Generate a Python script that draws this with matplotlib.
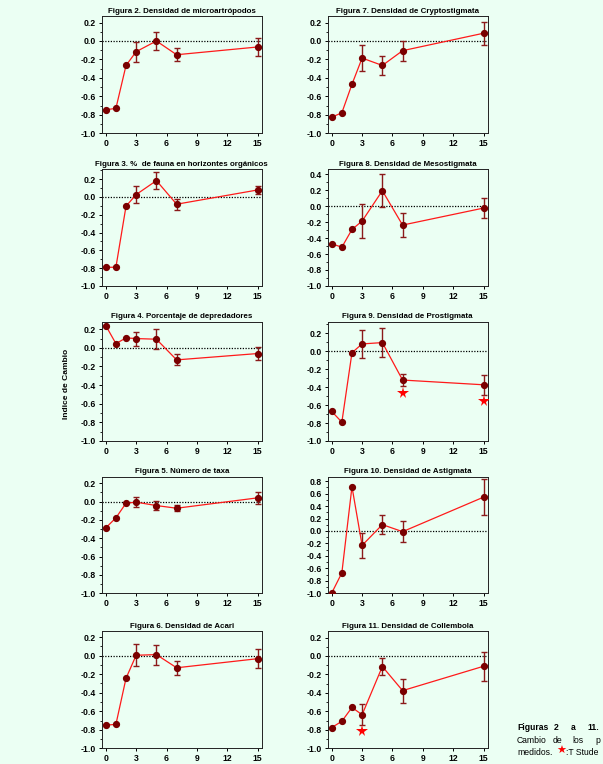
import matplotlib
matplotlib.use('Agg')
import matplotlib.pyplot as plt
from matplotlib.ticker import MultipleLocator, FormatStrFormatter

plt.rcParams['font.family'] = ['Liberation Sans', 'DejaVu Sans']
plt.rcParams['axes.unicode_minus'] = False

# años desde el disturbio
years = [0, 1, 2, 3, 5, 7, 15]

# Figura 2 .. 11: indice de cambio y error
fig2_y = [-0.745, -0.73, -0.265, -0.116, 0.0, -0.149, -0.065]
fig2_e = [0, 0, 0, 0.11, 0.10, 0.07, 0.10]

fig3_y = [-0.79, -0.79, -0.104, 0.026, 0.183, -0.082, 0.078]
fig3_e = [0, 0, 0, 0.095, 0.097, 0.06, 0.05]

fig4_y = [0.239, 0.046, 0.107, 0.10, 0.093, -0.129, -0.061]
fig4_e = [0, 0, 0, 0.075, 0.107, 0.06, 0.07]

fig5_y = [-0.287, -0.178, -0.018, -0.007, -0.044, -0.073, 0.04]
fig5_e = [0, 0, 0, 0.055, 0.047, 0.03, 0.063]

fig6_y = [-0.749, -0.742, -0.244, 0.004, 0.011, -0.131, -0.033]
fig6_e = [0, 0, 0, 0.12, 0.107, 0.073, 0.103]

fig7_y = [-0.825, -0.778, -0.469, -0.185, -0.265, -0.105, 0.084]
fig7_e = [0, 0, 0, 0.145, 0.10, 0.11, 0.125]

fig8_y = [-0.472, -0.515, -0.293, -0.188, 0.192, -0.238, -0.025]
fig8_e = [0, 0, 0, 0.21, 0.21, 0.155, 0.125]

fig9_y = [-0.67, -0.79, -0.015, 0.083, 0.098, -0.32, -0.373]
fig9_e = [0, 0, 0, 0.158, 0.16, 0.068, 0.113]
fig9_star_x = [7, 15]
fig9_star_y = [-0.46, -0.555]

fig10_y = [-0.995, -0.672, 0.71, -0.231, 0.102, -0.011, 0.543]
fig10_e = [0, 0, 0, 0.2, 0.148, 0.164, 0.293]

fig11_y = [-0.775, -0.707, -0.557, -0.636, -0.114, -0.375, -0.111]
fig11_e = [0, 0, 0, 0.116, 0.09, 0.13, 0.155]
fig11_star_x = [3]
fig11_star_y = [-0.814]

titles = {
    2: 'Figura 2. Densidad de microartrópodos',
    3: 'Figura 3. %  de fauna en horizontes orgánicos',
    4: 'Figura 4. Porcentaje de depredadores',
    5: 'Figura 5. Número de taxa',
    6: 'Figura 6. Densidad de Acari',
    7: 'Figura 7. Densidad de Cryptostigmata',
    8: 'Figura 8. Densidad de Mesostigmata',
    9: 'Figura 9. Densidad de Prostigmata',
    10: 'Figura 10. Densidad de Astigmata',
    11: 'Figura 11. Densidad de Collembola',
}

bg = '#ebfff3'
line_red = '#ff1a1a'
dark_red = '#7a0000'

fig = plt.figure(figsize=(6.03, 7.64), dpi=100, facecolor=bg)

col_x = [0.1687, 0.5434]
row_b = [0.8255, 0.6257, 0.4228, 0.2234, 0.0205]
row_h = [0.1535, 0.1527, 0.156, 0.1526, 0.1535]
w = 0.2653


def panel(ax, y, e, title, top, stars=None):
    ax.set_facecolor(bg)
    ax.axhline(0, color='black', linestyle=(0, (1, 1.2)), linewidth=0.9, zorder=1)
    ax.plot(years, y, color=line_red, linewidth=0.9, zorder=2)
    xs = [x for x, err in zip(years, e) if err > 0]
    ys = [v for v, err in zip(y, e) if err > 0]
    es = [err for err in e if err > 0]
    ax.errorbar(xs, ys, yerr=es, fmt='none', ecolor='#8b1a1a', elinewidth=1.0,
                capsize=2.2, capthick=1.0, zorder=3)
    ax.plot(years, y, 'o', color=dark_red, markersize=4.2, zorder=4)
    if stars is not None:
        ax.plot(stars[0], stars[1], '*', color='red', markersize=8.5,
                markeredgewidth=0, zorder=5)
    ax.set_xlim(-0.4, 15.4)
    ax.set_ylim(-1.0, top)
    ax.set_xticks([0, 3, 6, 9, 12, 15])
    ax.yaxis.set_major_locator(MultipleLocator(0.2))
    ax.yaxis.set_minor_locator(MultipleLocator(0.1))
    ax.yaxis.set_major_formatter(FormatStrFormatter('%.1f'))
    ax.tick_params(axis='both', which='major', direction='out', length=2.5,
                   width=0.7, labelsize=6.2, pad=1.5)
    ax.tick_params(axis='y', which='minor', direction='out', length=1.5, width=0.6)
    for lab in ax.get_xticklabels() + ax.get_yticklabels():
        lab.set_fontweight('bold')
    for sp in ax.spines.values():
        sp.set_linewidth(0.7)
        sp.set_color('#222222')
    ax.set_title(title, fontsize=5.7, fontweight='bold', pad=2.5)


left = [(2, fig2_y, fig2_e, 0.27, None),
        (3, fig3_y, fig3_e, 0.31, None),
        (4, fig4_y, fig4_e, 0.28, None),
        (5, fig5_y, fig5_e, 0.27, None),
        (6, fig6_y, fig6_e, 0.265, None)]
right = [(7, fig7_y, fig7_e, 0.27, None),
         (8, fig8_y, fig8_e, 0.46, None),
         (9, fig9_y, fig9_e, 0.33, (fig9_star_x, fig9_star_y)),
         (10, fig10_y, fig10_e, 0.87, None),
         (11, fig11_y, fig11_e, 0.27, (fig11_star_x, fig11_star_y))]

for c, col in enumerate([left, right]):
    for r, (n, y, e, top, st) in enumerate(col):
        ax = fig.add_axes([col_x[c], row_b[r], w, row_h[r]])
        panel(ax, y, e, titles[n], top, st)

fig.text(0.111, 0.497, 'Indice de Cambio', rotation=90, fontsize=6,
         fontweight='bold', ha='center', va='center')

# pie de figura, texto justificado (solo lo visible hasta el borde)
cap = 6.2
for word, px in [('Figuras', 517), ('2', 554), ('a', 571), ('11.', 587)]:
    fig.text(px / 603, 0.048, word, fontsize=cap, fontweight='bold',
             ha='left', va='center')
for word, px in [('Cambio', 517), ('de', 553), ('los', 572), ('p', 595)]:
    fig.text(px / 603, 0.031, word, fontsize=cap, ha='left', va='center')
fig.text(517 / 603, 0.015, 'medidos.', fontsize=cap, ha='left', va='center')
fig.text(556 / 603, 0.017, '★', fontsize=8, color='red', family='DejaVu Sans',
         ha='left', va='center')
fig.text(566 / 603, 0.015, ':T Stude', fontsize=cap, ha='left', va='center')

fig.savefig('out.png', dpi=100, facecolor=bg)
